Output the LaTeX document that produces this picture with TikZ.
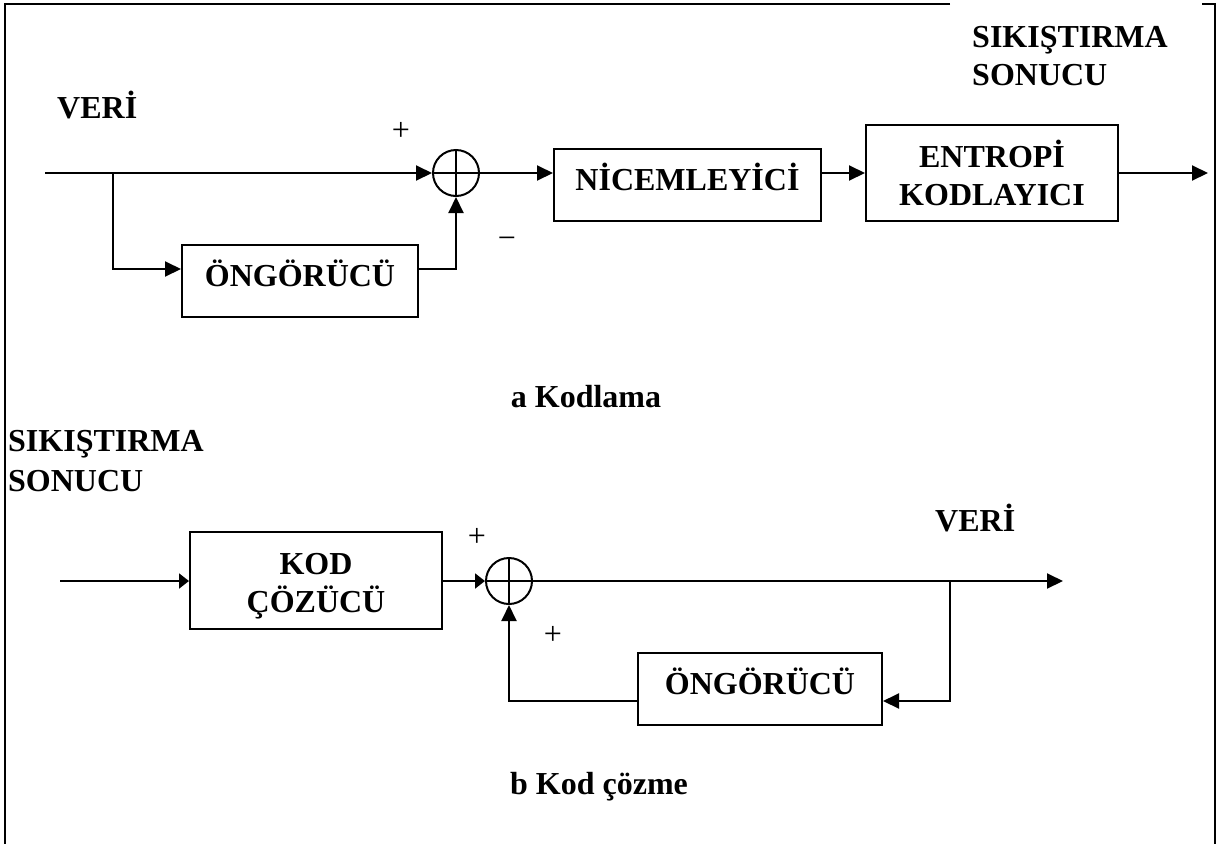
\documentclass[tikz,border=0pt]{standalone}
\usepackage{fontspec}
\setmainfont{Liberation Serif}
\usetikzlibrary{arrows.meta,calc}
\begin{document}
\begin{tikzpicture}[x=1pt,y=-1pt,
  every node/.style={font=\fontsize{32}{38}\selectfont\bfseries, inner sep=0pt},
  blk/.style={draw, line width=2pt, align=center},
  oneline/.style={text height=22pt, text depth=12pt},
  sumnode/.style={draw, circle, line width=2pt, minimum size=46pt,
    path picture={\draw[line width=2pt] (path picture bounding box.north) -- (path picture bounding box.south)
      (path picture bounding box.west) -- (path picture bounding box.east);}},
  arr/.style={line width=2pt, -{Triangle[length=16pt,width=15pt]}},
  arrs/.style={line width=2pt, -{Triangle[length=10pt,width=15pt]}},
  ln/.style={line width=2pt},
  sign/.style={font=\fontsize{32}{38}\selectfont\mdseries},
  lbl/.style={anchor=base west}
]
\useasboundingbox (0,0) rectangle (1219,844);
% frame (open at the bottom, gap at top right)
\draw[ln] (950,4) -- (5,4) -- (5,844);
\draw[ln] (1202,4) -- (1215,4) -- (1215,844);

% ---------- a: coding ----------
\node[lbl] (veri1) at (57,118) {VERİ};
\node[lbl] (sk1a) at (972,47) {SIKIŞTIRMA};
\node[lbl] (sk1b) at (972,85) {SONUCU};

\coordinate (in1) at (45,173);
\coordinate (br1) at (113,173);
\node[sumnode] (sum1) at (456,173) {};
\node[blk, oneline, minimum width=236pt, minimum height=72pt] (pred1) at (300,281) {ÖNGÖRÜCÜ};
\node[blk, oneline, minimum width=267pt, minimum height=72pt] (quant) at (687.5,185) {NİCEMLEYİCİ};
\node[blk, minimum width=252pt, minimum height=96pt] (ent) at (992,173) {ENTROPİ\\KODLAYICI};
\coordinate (out1) at (1208,173);

\draw[arr] (in1) -- (sum1.west);
\draw[arr] (br1) |- ($(pred1.west)+(0,-12)$);
\draw[arr] ($(pred1.east)+(0,-12)$) -| (sum1.south);
\draw[arr] (sum1.east) -- (quant.west |- sum1.east);
\draw[arr] (quant.east |- sum1.east) -- (ent.west |- sum1.east);
\draw[arr] (ent.east |- sum1.east) -- (out1);

\node[sign] (p1) at (401,131) {+};
\node[sign] (m1) at (507,243) {−};
\node[anchor=base] (capa) at (586,407) {a Kodlama};

% ---------- b: decoding ----------
\node[lbl] (sk2a) at (8,451) {SIKIŞTIRMA};
\node[lbl] (sk2b) at (8,491) {SONUCU};
\node[lbl] (veri2) at (935,531) {VERİ};

\coordinate (in2) at (60,581);
\node[blk, minimum width=252pt, minimum height=97pt,
  label={[name=dect, align=center, yshift=-6pt]center:{KOD\\ÇÖZÜCÜ}}] (dec) at (316,580.5) {};
\node[sumnode] (sum2) at (509,581) {};
\coordinate (br2) at (950,581);
\coordinate (out2) at (1063,581);
\node[blk, oneline, minimum width=244pt, minimum height=72pt] (pred2) at (760,689) {ÖNGÖRÜCÜ};

\draw[arrs] (in2) -- (dec.west |- in2);
\draw[arrs] (dec.east |- sum2) -- (sum2.west);
\draw[arr] (sum2.east) -- (out2);
\draw[arr] (br2) |- ($(pred2.east)+(0,12)$);
\draw[arr] ($(pred2.west)+(0,12)$) -| (sum2.south);

\node[sign] (p2) at (477,537) {+};
\node[sign] (p3) at (553,635) {+};
\node[anchor=base] (capb) at (599,794) {b Kod çözme};
\end{tikzpicture}
\end{document}
